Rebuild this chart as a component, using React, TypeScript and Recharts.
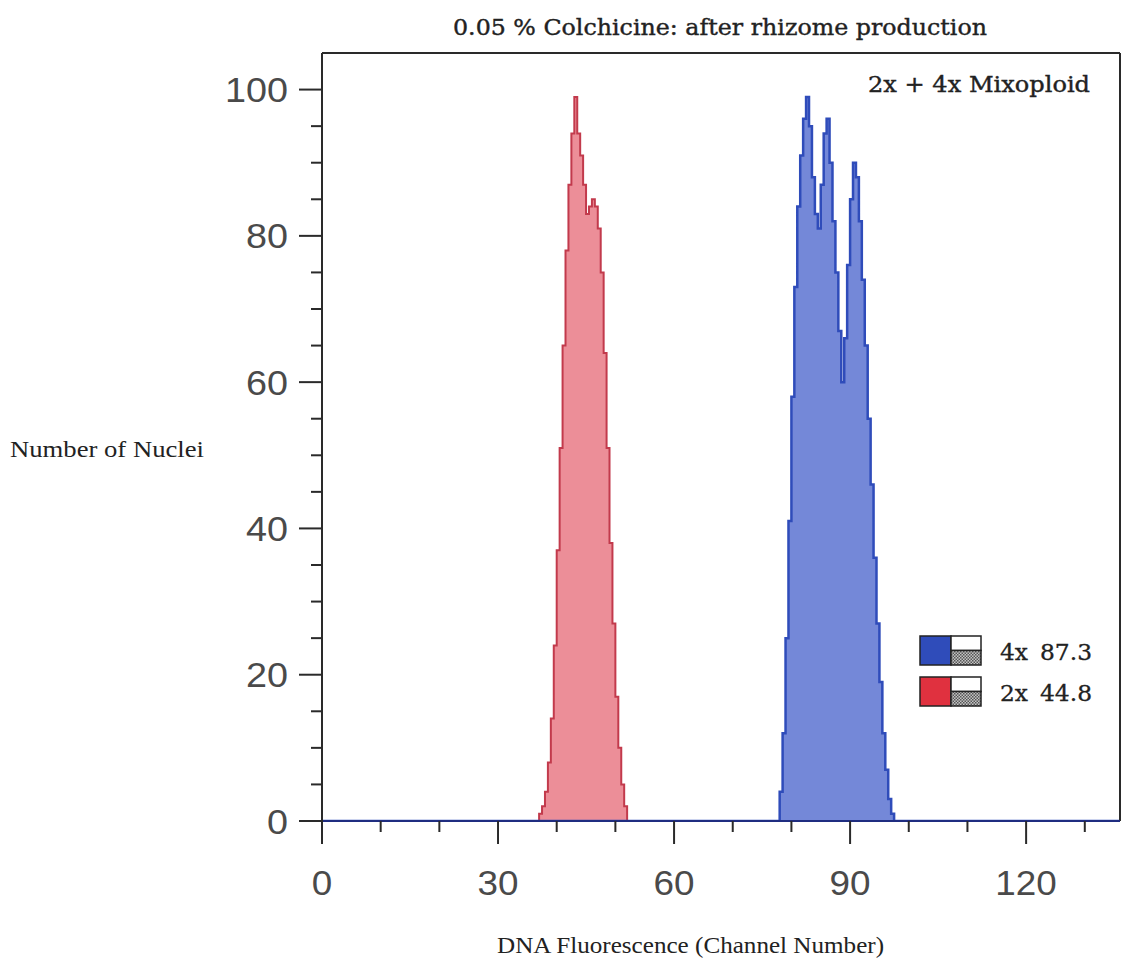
import React from 'react';
import { ComposedChart, Area, XAxis, YAxis, ReferenceLine } from 'recharts';

// ---- data (histogram channels, 0.5-unit bins) ----
const redChannels = [36.5, 37, 37.5, 38, 38.5, 39, 39.5, 40, 40.5, 41, 41.5, 42, 42.5, 43, 43.5, 44, 44.5, 45, 45.5, 46, 46.5, 47, 47.5, 48, 48.5, 49, 49.5, 50, 50.5, 51, 51.5, 52];
const redCounts = [0, 1, 2, 4, 8, 14, 24, 37, 51, 65, 78, 87, 94, 99, 94, 91, 87, 83, 84, 85, 84, 81, 75, 64, 51, 38, 27, 17, 10, 5, 2, 0];

const blueChannels = [77.5, 78, 78.5, 79, 79.5, 80, 80.5, 81, 81.5, 82, 82.5, 83, 83.5, 84, 84.5, 85, 85.5, 86, 86.5, 87, 87.5, 88, 88.5, 89, 89.5, 90, 90.5, 91, 91.5, 92, 92.5, 93, 93.5, 94, 94.5, 95, 95.5, 96, 96.5, 97, 97.5];
const blueCounts = [0, 4, 12, 25, 41, 58, 73, 84, 91, 96, 99, 95, 88, 83, 81, 87, 94, 96, 90, 82, 75, 67, 60, 66, 76, 85, 90, 88, 82, 74, 65, 55, 46, 36, 27, 19, 12, 7, 3, 1, 0];

const xDomain = [0, 136];
const yDomain = [0, 105];
const xTicks = [0, 10, 20, 30, 40, 50, 60, 70, 80, 90, 100, 110, 120, 130];
const yTicks = [0, 5, 10, 15, 20, 25, 30, 35, 40, 45, 50, 55, 60, 65, 70, 75, 80, 85, 90, 95, 100];

const legendNames = ['4x', '2x'];
const legendValues = ['87.3', '44.8'];

const titleText = '0.05 % Colchicine: after rhizome production';
const noteText = '2x + 4x Mixoploid';
const yLabel = 'Number of Nuclei';
const xLabel = 'DNA Fluorescence (Channel Number)';

// ---- build table ----
const redMap = new Map(redChannels.map((c, i) => [c, redCounts[i]]));
const blueMap = new Map(blueChannels.map((c, i) => [c, blueCounts[i]]));
const allX = Array.from(new Set([xDomain[0], ...redChannels, ...blueChannels, xDomain[1]])).sort((a, b) => a - b);
const table = allX.map((x) => ({ x, red: redMap.get(x) ?? 0, blue: blueMap.get(x) ?? 0 }));

const COL = {
  redFill: '#ec8e98',
  redStroke: '#c23a4c',
  blueFill: '#7488d8',
  blueStroke: '#2f4cba',
  axis: '#2a2a2a',
  tickText: '#4a4a4a',
};

const XTick = (props: any) => {
  const { x, y, payload } = props;
  const v = payload.value;
  const major = v % 30 === 0;
  const s = String(v);
  return (
    <g>
      <line x1={x} x2={x} y1={y} y2={y + (major ? 23 : 11)} stroke={COL.axis} strokeWidth={2} />
      {major && (
        <text
          x={x}
          y={y + 74}
          textAnchor="middle"
          fontSize={35}
          fill={COL.tickText}
          fontFamily="'Liberation Sans', Arial, sans-serif"
          textLength={s.length * 20.5}
          lengthAdjust="spacingAndGlyphs"
        >
          {s}
        </text>
      )}
    </g>
  );
};

const YTick = (props: any) => {
  const { x, y, payload } = props;
  const v = payload.value;
  const major = v % 20 === 0;
  const s = String(v);
  return (
    <g>
      <line x1={x - (major ? 23 : 11)} x2={x} y1={y} y2={y} stroke={COL.axis} strokeWidth={2} />
      {major && (
        <text
          x={x - 34}
          y={y + 12.5}
          textAnchor="end"
          fontSize={35}
          fill={COL.tickText}
          fontFamily="'Liberation Sans', Arial, sans-serif"
          textLength={s.length * 21}
          lengthAdjust="spacingAndGlyphs"
        >
          {s}
        </text>
      )}
    </g>
  );
};

export default function App() {
  const legendColors = [COL.blueStroke, '#e0313f'];
  return (
    <div style={{ position: 'absolute', left: 0, top: 0, width: 1126, height: 967, background: '#fff' }}>
      <ComposedChart
        width={1126}
        height={967}
        data={table}
        margin={{ top: 53, right: 6, bottom: 0, left: 0 }}
      >
        <XAxis
          dataKey="x"
          type="number"
          domain={xDomain}
          ticks={xTicks}
          interval={0}
          height={146}
          tickSize={0}
          tickMargin={0}
          tickLine={false}
          tick={<XTick />}
          axisLine={{ stroke: '#1f2d80', strokeWidth: 2 }}
          allowDataOverflow
        />
        <YAxis
          type="number"
          domain={yDomain}
          ticks={yTicks}
          interval={0}
          width={322}
          tickSize={0}
          tickMargin={0}
          tickLine={false}
          tick={<YTick />}
          axisLine={{ stroke: COL.axis, strokeWidth: 2 }}
          allowDataOverflow
        />
        <ReferenceLine y={105} stroke={COL.axis} strokeWidth={2} />
        <ReferenceLine x={136} stroke={COL.axis} strokeWidth={2} />
        <Area
          dataKey="red"
          type="stepAfter"
          fill={COL.redFill}
          fillOpacity={1}
          stroke={COL.redStroke}
          strokeWidth={2}
          dot={false}
          activeDot={false}
          isAnimationActive={false}
          baseValue={0}
        />
        <Area
          dataKey="blue"
          type="stepAfter"
          fill={COL.blueFill}
          fillOpacity={1}
          stroke={COL.blueStroke}
          strokeWidth={2.5}
          dot={false}
          activeDot={false}
          isAnimationActive={false}
          baseValue={0}
        />
      </ComposedChart>
      <svg
        width={1126}
        height={967}
        style={{ position: 'absolute', left: 0, top: 0, pointerEvents: 'none' }}
      >
        <defs>
          <pattern id="dots2" width="3" height="3" patternUnits="userSpaceOnUse">
            <rect width="3" height="3" fill="#c4c4c4" />
            <rect width="1.5" height="1.5" fill="#555" />
            <rect x="1.5" y="1.5" width="1.5" height="1.5" fill="#555" />
          </pattern>
        </defs>
        <text
          x={453}
          y={35}
          fontSize={23}
          fill="#222"
          stroke="#222"
          strokeWidth={0.4}
          fontFamily="'DejaVu Serif', serif"
          textLength={534}
          lengthAdjust="spacingAndGlyphs"
        >
          {titleText}
        </text>
        <text
          x={868}
          y={92}
          fontSize={22}
          fill="#222"
          stroke="#222"
          strokeWidth={0.4}
          fontFamily="'DejaVu Serif', serif"
          textLength={222}
          lengthAdjust="spacingAndGlyphs"
        >
          {noteText}
        </text>
        <text
          x={10}
          y={457}
          fontSize={23}
          fill="#222"
          fontFamily="'Liberation Serif', 'Times New Roman', serif"
          textLength={194}
          lengthAdjust="spacingAndGlyphs"
        >
          {yLabel}
        </text>
        <text
          x={497}
          y={953}
          fontSize={23}
          fill="#222"
          fontFamily="'Liberation Serif', 'Times New Roman', serif"
          textLength={387}
          lengthAdjust="spacingAndGlyphs"
        >
          {xLabel}
        </text>
        {legendNames.map((name, i) => {
          const top = 636 + i * 41;
          return (
            <g key={name}>
              <rect x={920} y={top} width={31} height={29} fill={legendColors[i]} stroke="#222" strokeWidth={1.5} />
              <rect x={951} y={top} width={30} height={14.5} fill="#fff" stroke="#222" strokeWidth={1.5} />
              <rect x={951} y={top + 14.5} width={30} height={14.5} fill="url(#dots2)" stroke="#222" strokeWidth={1.5} />
              <text
                x={1000}
                y={top + 24}
                fontSize={22}
                fill="#222"
                stroke="#222"
                strokeWidth={0.3}
                fontFamily="'DejaVu Serif', serif"
                textLength={28}
                lengthAdjust="spacingAndGlyphs"
              >
                {name}
              </text>
              <text
                x={1040}
                y={top + 24}
                fontSize={22}
                fill="#222"
                stroke="#222"
                strokeWidth={0.3}
                fontFamily="'DejaVu Serif', serif"
                textLength={52}
                lengthAdjust="spacingAndGlyphs"
              >
                {legendValues[i]}
              </text>
            </g>
          );
        })}
      </svg>
    </div>
  );
}
